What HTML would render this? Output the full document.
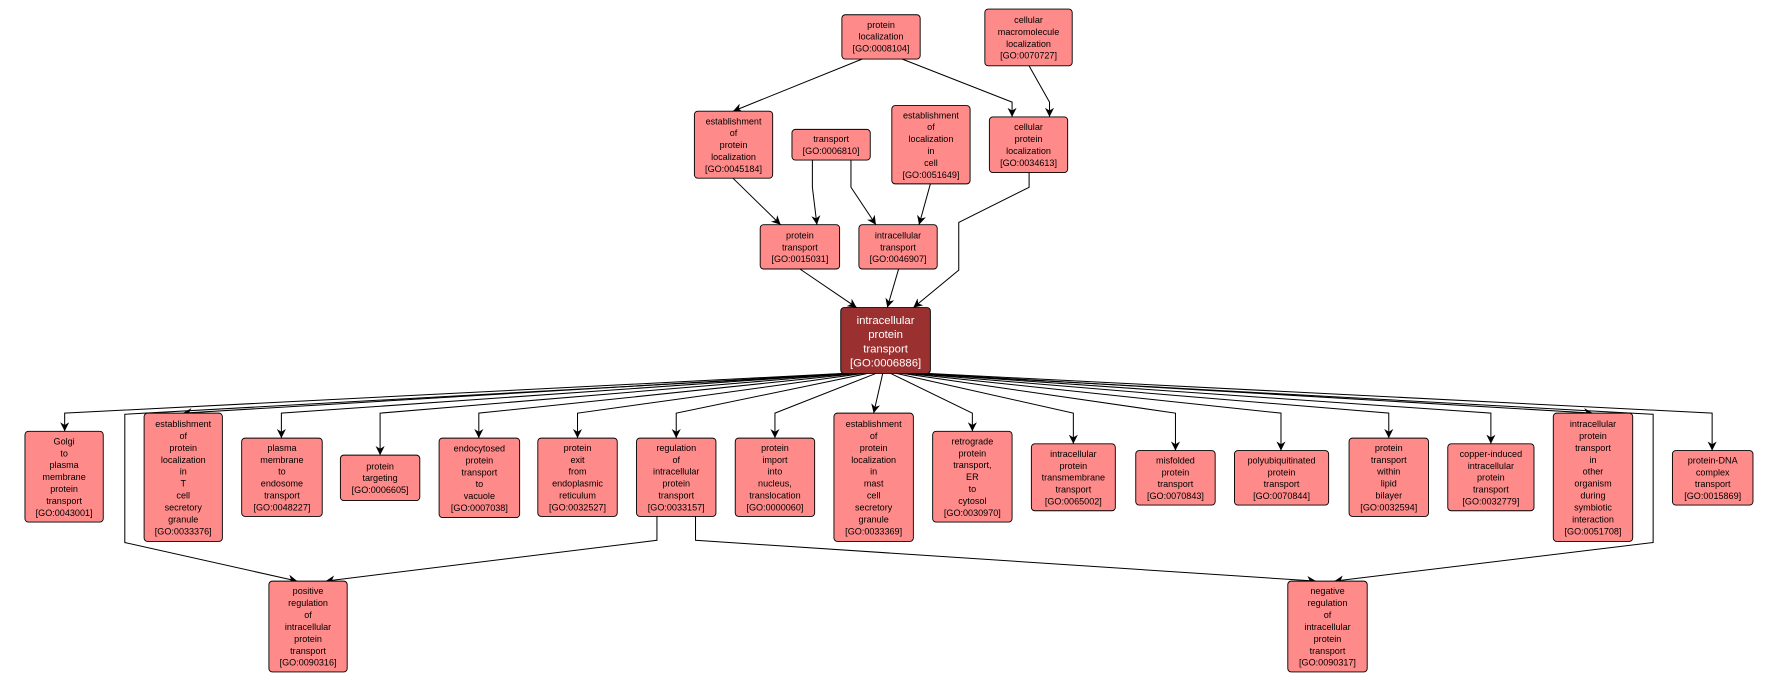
<!DOCTYPE html>
<html><head><meta charset="utf-8"><style>
html,body{margin:0;padding:0;background:#fff;}
svg{display:block;}
text{font-family:"Liberation Sans",sans-serif;font-size:8px;fill:#000;text-anchor:middle;}
.n{fill:#ff8a8a;stroke:#000;stroke-width:0.8;}
.m{fill:#9a3030;stroke:#000;stroke-width:0.8;}
.e{fill:none;stroke:#000;stroke-width:0.9;}
</style></head><body>
<svg width="1770" height="681" viewBox="0 0 1560 600" preserveAspectRatio="none" xmlns="http://www.w3.org/2000/svg">
<defs><marker id="a" viewBox="0 0 10 10" refX="10" refY="5" markerWidth="8" markerHeight="8" markerUnits="userSpaceOnUse" orient="auto"><path d="M0,0 L10,5 L0,10 L3,5 z" fill="#000"/></marker></defs>
<g class="e" marker-end="url(#a)">
<path d="M760,52 L646,98"/>
<path d="M795,52 L892,90 L892,103"/>
<path d="M907,58 L925,90 L925,103"/>
<path d="M646,157 L688,198"/>
<path d="M716,141 L716,165 L720,198"/>
<path d="M750,141 L750,165 L772,198"/>
<path d="M820,162 L810,198"/>
<path d="M907,152 L907,165 L845,196 L845,238 L805,271"/>
<path d="M705,237 L755,271"/>
<path d="M792,237 L782,271"/>
<path d="M744,329 L57,364 L57,380"/>
<path d="M746,329 L161,364"/>
<path d="M749,329 L248,364 L248,386"/>
<path d="M753,329 L335,364 L335,401"/>
<path d="M757,329 L422,364 L422,386"/>
<path d="M761,329 L509,364 L509,386"/>
<path d="M765,329 L596,364 L596,386"/>
<path d="M772,329 L683,364 L683,386"/>
<path d="M778,329 L770,364"/>
<path d="M785,329 L857,364 L857,380"/>
<path d="M790,329 L946,364 L946,391"/>
<path d="M795,329 L1036,364 L1036,397"/>
<path d="M799,329 L1129,364 L1129,397"/>
<path d="M803,329 L1224,364 L1224,386"/>
<path d="M807,329 L1314,364 L1314,391"/>
<path d="M811,329 L1404,364"/>
<path d="M817,329 L1509,364 L1509,397"/>
<path d="M742,330 L110,365 L110,478 L262,512"/>
<path d="M818,330 L1457,365 L1457,478 L1176,512"/>
<path d="M579,455 L579,476 L287,512"/>
<path d="M613,455 L613,476 L1160,512"/>
</g>
<g>
<rect class="n" x="742" y="13" width="69" height="39" rx="3"/>
<text x="776.5" y="24.5"><tspan x="776.5">protein</tspan><tspan x="776.5" dy="10.5">localization</tspan><tspan x="776.5" dy="10.5">[GO:0008104]</tspan></text>
<rect class="n" x="868" y="8" width="77" height="50" rx="3"/>
<text y="20.25"><tspan x="906.5">cellular</tspan><tspan x="906.5" dy="10.5">macromolecule</tspan><tspan x="906.5" dy="10.5">localization</tspan><tspan x="906.5" dy="10.5">[GO:0070727]</tspan></text>
<rect class="n" x="612" y="98" width="69" height="59" rx="3"/>
<text y="109.5"><tspan x="646.5">establishment</tspan><tspan x="646.5" dy="10.5">of</tspan><tspan x="646.5" dy="10.5">protein</tspan><tspan x="646.5" dy="10.5">localization</tspan><tspan x="646.5" dy="10.5">[GO:0045184]</tspan></text>
<rect class="n" x="698" y="114" width="69" height="27" rx="3"/>
<text y="125.25"><tspan x="732.5">transport</tspan><tspan x="732.5" dy="10.5">[GO:0006810]</tspan></text>
<rect class="n" x="786" y="93" width="69" height="69" rx="3"/>
<text y="104.25"><tspan x="820.5">establishment</tspan><tspan x="820.5" dy="10.5">of</tspan><tspan x="820.5" dy="10.5">localization</tspan><tspan x="820.5" dy="10.5">in</tspan><tspan x="820.5" dy="10.5">cell</tspan><tspan x="820.5" dy="10.5">[GO:0051649]</tspan></text>
<rect class="n" x="872" y="103" width="69" height="49" rx="3"/>
<text y="114.75"><tspan x="906.5">cellular</tspan><tspan x="906.5" dy="10.5">protein</tspan><tspan x="906.5" dy="10.5">localization</tspan><tspan x="906.5" dy="10.5">[GO:0034613]</tspan></text>
<rect class="n" x="670" y="198" width="70" height="39" rx="3"/>
<text y="210"><tspan x="705">protein</tspan><tspan x="705" dy="10.5">transport</tspan><tspan x="705" dy="10.5">[GO:0015031]</tspan></text>
<rect class="n" x="757" y="198" width="69" height="39" rx="3"/>
<text y="210"><tspan x="791.5">intracellular</tspan><tspan x="791.5" dy="10.5">transport</tspan><tspan x="791.5" dy="10.5">[GO:0046907]</tspan></text>
<rect class="m" x="741" y="271" width="79" height="58" rx="3"/>
<text y="285.5" style="font-size:10px;fill:#fff"><tspan x="780.5">intracellular</tspan><tspan x="780.5" dy="12.5">protein</tspan><tspan x="780.5" dy="12.5">transport</tspan><tspan x="780.5" dy="12.5">[GO:0006886]</tspan></text>

<rect class="n" x="22" y="380" width="69" height="80" rx="3"/>
<text y="391.5"><tspan x="56.5">Golgi</tspan><tspan x="56.5" dy="10.5">to</tspan><tspan x="56.5" dy="10.5">plasma</tspan><tspan x="56.5" dy="10.5">membrane</tspan><tspan x="56.5" dy="10.5">protein</tspan><tspan x="56.5" dy="10.5">transport</tspan><tspan x="56.5" dy="10.5">[GO:0043001]</tspan></text>
<rect class="n" x="127" y="364" width="69" height="113" rx="3"/>
<text y="376.25"><tspan x="161.5">establishment</tspan><tspan x="161.5" dy="10.5">of</tspan><tspan x="161.5" dy="10.5">protein</tspan><tspan x="161.5" dy="10.5">localization</tspan><tspan x="161.5" dy="10.5">in</tspan><tspan x="161.5" dy="10.5">T</tspan><tspan x="161.5" dy="10.5">cell</tspan><tspan x="161.5" dy="10.5">secretory</tspan><tspan x="161.5" dy="10.5">granule</tspan><tspan x="161.5" dy="10.5">[GO:0033376]</tspan></text>
<rect class="n" x="213" y="386" width="71" height="69" rx="3"/>
<text y="397.25"><tspan x="248.5">plasma</tspan><tspan x="248.5" dy="10.5">membrane</tspan><tspan x="248.5" dy="10.5">to</tspan><tspan x="248.5" dy="10.5">endosome</tspan><tspan x="248.5" dy="10.5">transport</tspan><tspan x="248.5" dy="10.5">[GO:0048227]</tspan></text>
<rect class="n" x="300" y="401" width="70" height="40" rx="3"/>
<text y="413.5"><tspan x="335">protein</tspan><tspan x="335" dy="10.5">targeting</tspan><tspan x="335" dy="10.5">[GO:0006605]</tspan></text>
<rect class="n" x="387" y="386" width="71" height="70" rx="3"/>
<text y="397.75"><tspan x="422.5">endocytosed</tspan><tspan x="422.5" dy="10.5">protein</tspan><tspan x="422.5" dy="10.5">transport</tspan><tspan x="422.5" dy="10.5">to</tspan><tspan x="422.5" dy="10.5">vacuole</tspan><tspan x="422.5" dy="10.5">[GO:0007038]</tspan></text>
<rect class="n" x="474" y="386" width="70" height="69" rx="3"/>
<text y="397.25"><tspan x="509">protein</tspan><tspan x="509" dy="10.5">exit</tspan><tspan x="509" dy="10.5">from</tspan><tspan x="509" dy="10.5">endoplasmic</tspan><tspan x="509" dy="10.5">reticulum</tspan><tspan x="509" dy="10.5">[GO:0032527]</tspan></text>
<rect class="n" x="561" y="386" width="70" height="69" rx="3"/>
<text y="397.25"><tspan x="596">regulation</tspan><tspan x="596" dy="10.5">of</tspan><tspan x="596" dy="10.5">intracellular</tspan><tspan x="596" dy="10.5">protein</tspan><tspan x="596" dy="10.5">transport</tspan><tspan x="596" dy="10.5">[GO:0033157]</tspan></text>
<rect class="n" x="648" y="386" width="70" height="69" rx="3"/>
<text y="397.25"><tspan x="683">protein</tspan><tspan x="683" dy="10.5">import</tspan><tspan x="683" dy="10.5">into</tspan><tspan x="683" dy="10.5">nucleus,</tspan><tspan x="683" dy="10.5">translocation</tspan><tspan x="683" dy="10.5">[GO:0000060]</tspan></text>
<rect class="n" x="735" y="364" width="70" height="113" rx="3"/>
<text y="376.25"><tspan x="770">establishment</tspan><tspan x="770" dy="10.5">of</tspan><tspan x="770" dy="10.5">protein</tspan><tspan x="770" dy="10.5">localization</tspan><tspan x="770" dy="10.5">in</tspan><tspan x="770" dy="10.5">mast</tspan><tspan x="770" dy="10.5">cell</tspan><tspan x="770" dy="10.5">secretory</tspan><tspan x="770" dy="10.5">granule</tspan><tspan x="770" dy="10.5">[GO:0033369]</tspan></text>
<rect class="n" x="822" y="380" width="70" height="80" rx="3"/>
<text y="391.5"><tspan x="857">retrograde</tspan><tspan x="857" dy="10.5">protein</tspan><tspan x="857" dy="10.5">transport,</tspan><tspan x="857" dy="10.5">ER</tspan><tspan x="857" dy="10.5">to</tspan><tspan x="857" dy="10.5">cytosol</tspan><tspan x="857" dy="10.5">[GO:0030970]</tspan></text>
<rect class="n" x="909" y="391" width="74" height="59" rx="3"/>
<text y="402.5"><tspan x="946">intracellular</tspan><tspan x="946" dy="10.5">protein</tspan><tspan x="946" dy="10.5">transmembrane</tspan><tspan x="946" dy="10.5">transport</tspan><tspan x="946" dy="10.5">[GO:0065002]</tspan></text>
<rect class="n" x="1001" y="397" width="70" height="48" rx="3"/>
<text y="408.25"><tspan x="1036">misfolded</tspan><tspan x="1036" dy="10.5">protein</tspan><tspan x="1036" dy="10.5">transport</tspan><tspan x="1036" dy="10.5">[GO:0070843]</tspan></text>
<rect class="n" x="1088" y="397" width="83" height="48" rx="3"/>
<text y="408.25"><tspan x="1129.5">polyubiquitinated</tspan><tspan x="1129.5" dy="10.5">protein</tspan><tspan x="1129.5" dy="10.5">transport</tspan><tspan x="1129.5" dy="10.5">[GO:0070844]</tspan></text>
<rect class="n" x="1189" y="386" width="70" height="69" rx="3"/>
<text y="397.25"><tspan x="1224">protein</tspan><tspan x="1224" dy="10.5">transport</tspan><tspan x="1224" dy="10.5">within</tspan><tspan x="1224" dy="10.5">lipid</tspan><tspan x="1224" dy="10.5">bilayer</tspan><tspan x="1224" dy="10.5">[GO:0032594]</tspan></text>
<rect class="n" x="1276" y="391" width="76" height="59" rx="3"/>
<text y="402.5"><tspan x="1314">copper-induced</tspan><tspan x="1314" dy="10.5">intracellular</tspan><tspan x="1314" dy="10.5">protein</tspan><tspan x="1314" dy="10.5">transport</tspan><tspan x="1314" dy="10.5">[GO:0032779]</tspan></text>
<rect class="n" x="1369" y="364" width="70" height="113" rx="3"/>
<text y="376.25"><tspan x="1404">intracellular</tspan><tspan x="1404" dy="10.5">protein</tspan><tspan x="1404" dy="10.5">transport</tspan><tspan x="1404" dy="10.5">in</tspan><tspan x="1404" dy="10.5">other</tspan><tspan x="1404" dy="10.5">organism</tspan><tspan x="1404" dy="10.5">during</tspan><tspan x="1404" dy="10.5">symbiotic</tspan><tspan x="1404" dy="10.5">interaction</tspan><tspan x="1404" dy="10.5">[GO:0051708]</tspan></text>
<rect class="n" x="1474" y="397" width="71" height="48" rx="3"/>
<text y="408.25"><tspan x="1509.5">protein-DNA</tspan><tspan x="1509.5" dy="10.5">complex</tspan><tspan x="1509.5" dy="10.5">transport</tspan><tspan x="1509.5" dy="10.5">[GO:0015869]</tspan></text>
<rect class="n" x="237" y="512" width="69" height="80" rx="3"/>
<text y="523.5"><tspan x="271.5">positive</tspan><tspan x="271.5" dy="10.5">regulation</tspan><tspan x="271.5" dy="10.5">of</tspan><tspan x="271.5" dy="10.5">intracellular</tspan><tspan x="271.5" dy="10.5">protein</tspan><tspan x="271.5" dy="10.5">transport</tspan><tspan x="271.5" dy="10.5">[GO:0090316]</tspan></text>
<rect class="n" x="1135" y="512" width="70" height="80" rx="3"/>
<text y="523.5"><tspan x="1170">negative</tspan><tspan x="1170" dy="10.5">regulation</tspan><tspan x="1170" dy="10.5">of</tspan><tspan x="1170" dy="10.5">intracellular</tspan><tspan x="1170" dy="10.5">protein</tspan><tspan x="1170" dy="10.5">transport</tspan><tspan x="1170" dy="10.5">[GO:0090317]</tspan></text>
</g>
</svg>
</body></html>
